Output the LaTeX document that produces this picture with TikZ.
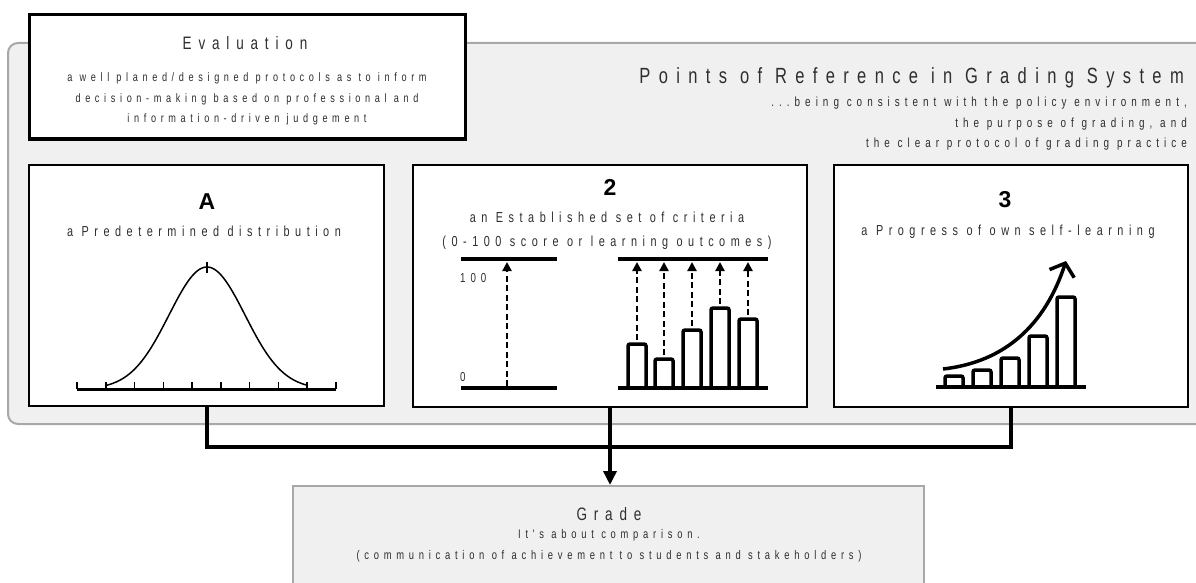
\documentclass[tikz,border=0pt]{standalone}
\usepackage{fontspec}
\setmainfont{Liberation Sans}
\newfontfamily\spaced[FakeStretch=0.75,LetterSpace=38]{Liberation Sans}
\usetikzlibrary{arrows.meta, fit, positioning}
\definecolor{panelgrey}{HTML}{F0F0F0}
\definecolor{edgegrey}{HTML}{A8A8A8}
\definecolor{txtgrey}{HTML}{2E2E2E}
\tikzstyle{card} = [rectangle, draw=black, fill=white, line width=2.5, inner sep=0]
\tikzstyle{headtext} = [text=txtgrey, inner sep=0, font=\spaced\fontsize{18}{20}\selectfont]
\tikzstyle{subtext} = [text=txtgrey, inner sep=0, align=center, font=\spaced\fontsize{12.2}{20.5}\selectfont]
\tikzstyle{bignum} = [inner sep=0, font=\bfseries\fontsize{23}{24}\selectfont]
\tikzstyle{bar} = [line width=3.5, rounded corners=2]
\tikzstyle{level} = [line width=4]
\tikzstyle{dasharrow} = [line width=2.5, dash pattern=on 6pt off 3.5pt, -{Triangle[length=9,width=9]}]
\tikzstyle{link} = [line width=4]

\begin{document}
\begin{tikzpicture}[x=1pt, y=-1pt]
\useasboundingbox (0,0) rectangle (1196,583);
\clip (0,0) rectangle (1196,583);

% grey panel behind the three references
\node (panel) [rectangle, draw=edgegrey, fill=panelgrey, line width=2, rounded corners=10, inner sep=0, fit={(8,43) (1230,424)}] {};

% evaluation card
\node (evaluation) [card, line width=3, fit={(29,15) (465,139)}] {};
\node (evalTitle) [headtext] at (245,43) {Evaluation};
\node (evalText) [subtext] at (247,99) {a well planed/designed protocols as to inform\\decision-making based on professional and\\information-driven judgement};

% panel heading
\node (refTitle) [headtext, anchor=east, font=\spaced\fontsize{22}{24}\selectfont] at (1184,78) {Points of Reference in Grading System};
\node (refText) [subtext, anchor=east, align=right, font=\spaced\fontsize{13.2}{20.5}\selectfont] at (1187,124) {...being consistent with the policy environment,\\the purpose of grading, and\\the clear protocol of grading practice};

% the three cards
\node (boxA) [card, fit={(29,165) (384,406)}] {};
\node (boxB) [card, fit={(413,165) (807,407)}] {};
\node (boxC) [card, fit={(834,165) (1188,407)}] {};

% A: predetermined distribution
\node (numA) [bignum] at (207,202) {A};
\node (textA) [subtext, font=\spaced\fontsize{14.5}{20.5}\selectfont] at (204,231) {a Predetermined distribution};
\draw [line width=3] (77,389) -- (336,389);
\foreach \i in {0,...,9}
	\draw [line width=1.5] ({77+\i*28.78},389) -- ++(0,-7);
\draw [line width=1.5] plot[domain=-101:101, samples=90, smooth] ({207+\x},{389-122*exp(-((\x/38)^2)/2)});
\draw [line width=1.5] (207,262) -- (207,273);

% 2: established set of criteria
\node (numB) [bignum] at (610,187) {2};
\node (textB) [subtext, font=\spaced\fontsize{14.5}{24}\selectfont] at (607,231) {an Established set of criteria\\(0-100 score or learning outcomes)};
\draw [level] (461,259) -- (557,259);
\draw [level] (461,388) -- (557,388);
\draw [dasharrow] (507,386) -- (507,262);
\node (top) [subtext, anchor=west, font=\spaced\fontsize{13}{13}\selectfont] at (460,278) {100};
\node (zero) [subtext, anchor=west, font=\spaced\fontsize{13}{13}\selectfont] at (460,377) {0};
\draw [level] (618,259) -- (768,259);
\draw [level] (618,388) -- (768,388);
\foreach \cx/\top in {637/344, 664/359, 692/330, 720/308, 748/319}{
	\draw [bar] (\cx-9,387) -- (\cx-9,\top) -- (\cx+9,\top) -- (\cx+9,387);
	\draw [dasharrow] (\cx,\top-4) -- (\cx,262);
}

% 3: progress of own self-learning
\node (numC) [bignum] at (1005,200) {3};
\node (textC) [subtext, font=\spaced\fontsize{14.5}{20.5}\selectfont] at (1008,232) {a Progress of own self-learning};
\draw [level] (936,387) -- (1086,387);
\foreach \cx/\top in {954/376, 982/370, 1010/358, 1038/336, 1066/297}
	\draw [bar] (\cx-9,386) -- (\cx-9,\top) -- (\cx+9,\top) -- (\cx+9,386);
\draw [line width=3.5, -{Straight Barb[length=11,width=26,line width=3.5]}] (943,369) .. controls (1005,362) and (1045,325) .. (1066,261);

% grade
\node (grade) [rectangle, draw=edgegrey, fill=panelgrey, line width=2, inner sep=0, fit={(293,486) (924,620)}] {};
\node (gradeTitle) [headtext] at (609,514) {Grade};
\node (gradeText) [subtext, font=\spaced\fontsize{12.5}{21}\selectfont] at (609,546) {It's about comparison.\\(communication of achievement to students and stakeholders)};

% connectors
\draw [link] (boxA.south) -- ++(0,40) -| (boxC.south);
\draw [link, -{Triangle[length=14,width=13]}] (boxB.south) -- (boxB.south |- grade.north);
\end{tikzpicture}
\end{document}
